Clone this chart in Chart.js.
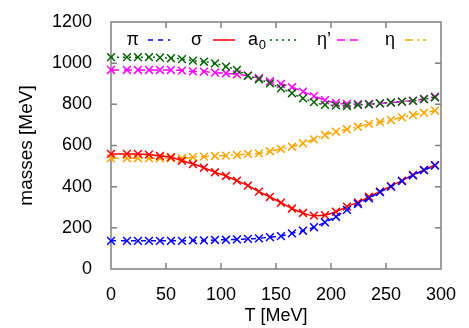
<!DOCTYPE html>
<html>
<head>
<meta charset="utf-8">
<script src="https://cdn.jsdelivr.net/npm/chart.js@4.4.1/dist/chart.umd.min.js"></script>
<style>
  html, body { margin: 0; padding: 0; background: #fff; }
  #wrap { width: 469px; height: 328px; }
</style>
</head>
<body>
<div id="wrap"><canvas id="c"></canvas></div>
<script>
// temperatures (MeV) of the computed points
const temps = [0, 14.5, 24.5, 34.5, 44.5, 54.5, 64.5, 74.5, 84.5, 94.5,
  104.5, 114.5, 124.5, 134.5, 144.5, 154.5, 164.5, 174.5, 184.5, 194.5,
  204.5, 214.5, 224.5, 234.5, 244.5, 254.5, 264.5, 274.5, 284.5, 294.5];

const piMass = [137, 137, 137, 137, 137, 137, 137, 139, 139, 141,
  142, 144, 146, 149, 155, 160, 173, 186, 203, 227,
  254, 287, 316, 343, 374, 400, 427, 455, 480, 503];
const sigmaMass = [559, 559, 559, 556, 549, 543, 526, 510, 492, 470,
  452, 429, 405, 376, 350, 322, 294, 272, 259, 262,
  278, 303, 324, 351, 376, 403, 429, 457, 481, 505];
const a0Mass = [1029, 1029, 1029, 1029, 1027, 1024, 1020, 1012, 1007, 999,
  983, 967, 939, 922, 902, 878, 854, 829, 811, 797,
  795, 792, 797, 800, 805, 809, 813, 817, 825, 834];
const etaPrimeMass = [967, 967, 967, 967, 967, 967, 964, 960, 959, 954,
  951, 946, 939, 927, 912, 899, 883, 862, 840, 820,
  807, 802, 801, 802, 805, 808, 813, 818, 826, 837];
const etaMass = [538, 538, 538, 538, 538, 538, 538, 543, 546, 549,
  551, 554, 559, 562, 572, 583, 594, 611, 630, 651,
  667, 679, 691, 705, 714, 724, 737, 748, 759, 769];

const xTicks = [0, 50, 100, 150, 200, 250, 300];
const yTicks = [0, 200, 400, 600, 800, 1000, 1200];

const FONT = '"Liberation Sans", Arial, sans-serif';
Chart.defaults.font.family = FONT;
Chart.defaults.font.size = 18;
Chart.defaults.color = '#000';

function series(label, values, color, dash) {
  return {
    label: label,
    data: temps.map((t, i) => ({ x: t, y: values[i] })),
    borderColor: color,
    backgroundColor: color,
    borderWidth: 1.5,
    borderDash: dash,
    pointStyle: 'crossRot',
    pointRadius: 5.5,
    pointBorderWidth: 1.5,
    pointHoverRadius: 5.5,
    cubicInterpolationMode: 'monotone',
    clip: false
  };
}

const datasets = [
  series('π', piMass, '#0000ff', [5, 5]),
  series('σ', sigmaMass, '#ff0000', []),
  series('a0', a0Mass, '#006400', [2, 4]),
  series('η’', etaPrimeMass, '#ff00ff', [8, 5]),
  series('η', etaMass, '#ffa500', [8, 4, 2, 4])
];

// legend entries: text right edge, sample start and length
const legendSpots = [
  { textRight: 139, lineX: 148, lineLen: 22 },
  { textRight: 202, lineX: 213, lineLen: 22 },
  { textRight: 258, lineX: 270, lineLen: 28 },
  { textRight: 331, lineX: 337, lineLen: 23 },
  { textRight: 395, lineX: 405, lineLen: 21 }
];

const framePlugin = {
  id: 'frame',
  beforeDatasetsDraw(chart) {
    const { ctx, chartArea: a, scales } = chart;
    ctx.save();
    ctx.strokeStyle = '#808080';
    ctx.lineWidth = 1.5;
    ctx.strokeRect(a.left, a.top, a.right - a.left, a.bottom - a.top);
    ctx.beginPath();
    xTicks.slice(1, -1).forEach(v => {
      const x = scales.x.getPixelForValue(v);
      ctx.moveTo(x, a.bottom); ctx.lineTo(x, a.bottom - 6);
      ctx.moveTo(x, a.top); ctx.lineTo(x, a.top + 6);
    });
    yTicks.slice(1, -1).forEach(v => {
      const y = scales.y.getPixelForValue(v);
      ctx.moveTo(a.left, y); ctx.lineTo(a.left + 6, y);
      ctx.moveTo(a.right, y); ctx.lineTo(a.right - 6, y);
    });
    ctx.stroke();
    ctx.restore();
  },
  afterDraw(chart) {
    const ctx = chart.ctx;
    const y = 40;
    ctx.save();
    ctx.textBaseline = 'middle';
    ctx.textAlign = 'right';
    ctx.fillStyle = '#000';
    chart.data.datasets.forEach((ds, i) => {
      const s = legendSpots[i];
      if (ds.label === 'a0') {
        ctx.font = '13px ' + FONT;
        ctx.fillText('0', s.textRight + 8, y + 5);
        ctx.font = '18px ' + FONT;
        ctx.fillText('a', s.textRight, y);
      } else {
        ctx.font = '18px ' + FONT;
        ctx.fillText(ds.label, s.textRight, y);
      }
      ctx.strokeStyle = ds.borderColor;
      ctx.lineWidth = 1.5;
      ctx.setLineDash(ds.borderDash);
      ctx.beginPath();
      ctx.moveTo(s.lineX, y);
      ctx.lineTo(s.lineX + s.lineLen, y);
      ctx.stroke();
    });
    ctx.restore();
  }
};

const tickFont = { family: FONT, size: 18 };

new Chart(document.getElementById('c'), {
  type: 'line',
  data: { datasets: datasets },
  options: {
    responsive: true,
    maintainAspectRatio: false,
    animation: false,
    layout: { padding: { left: 0, right: 28, top: 22, bottom: 0 } },
    plugins: {
      legend: { display: false },
      tooltip: { enabled: false }
    },
    scales: {
      x: {
        type: 'linear',
        min: 0,
        max: 300,
        afterFit: s => { s.height = 59; },
        afterBuildTicks: s => { s.ticks = xTicks.map(v => ({ value: v })); },
        grid: { display: false },
        border: { display: false },
        ticks: { color: '#000', padding: 7, font: tickFont, callback: v => String(v) },
        title: {
          display: true,
          text: 'T [MeV]',
          color: '#000',
          padding: { top: 0, bottom: 1 },
          font: tickFont
        }
      },
      y: {
        min: 0,
        max: 1200,
        afterFit: s => { s.width = 111; },
        afterBuildTicks: s => { s.ticks = yTicks.map(v => ({ value: v })); },
        grid: { display: false },
        border: { display: false },
        ticks: { color: '#000', padding: 11, font: tickFont, callback: v => String(v) },
        title: {
          display: true,
          text: 'masses [MeV]',
          color: '#000',
          padding: { top: 15, bottom: 0 },
          font: { family: FONT, size: 19 }
        }
      }
    }
  },
  plugins: [framePlugin]
});
</script>
</body>
</html>
